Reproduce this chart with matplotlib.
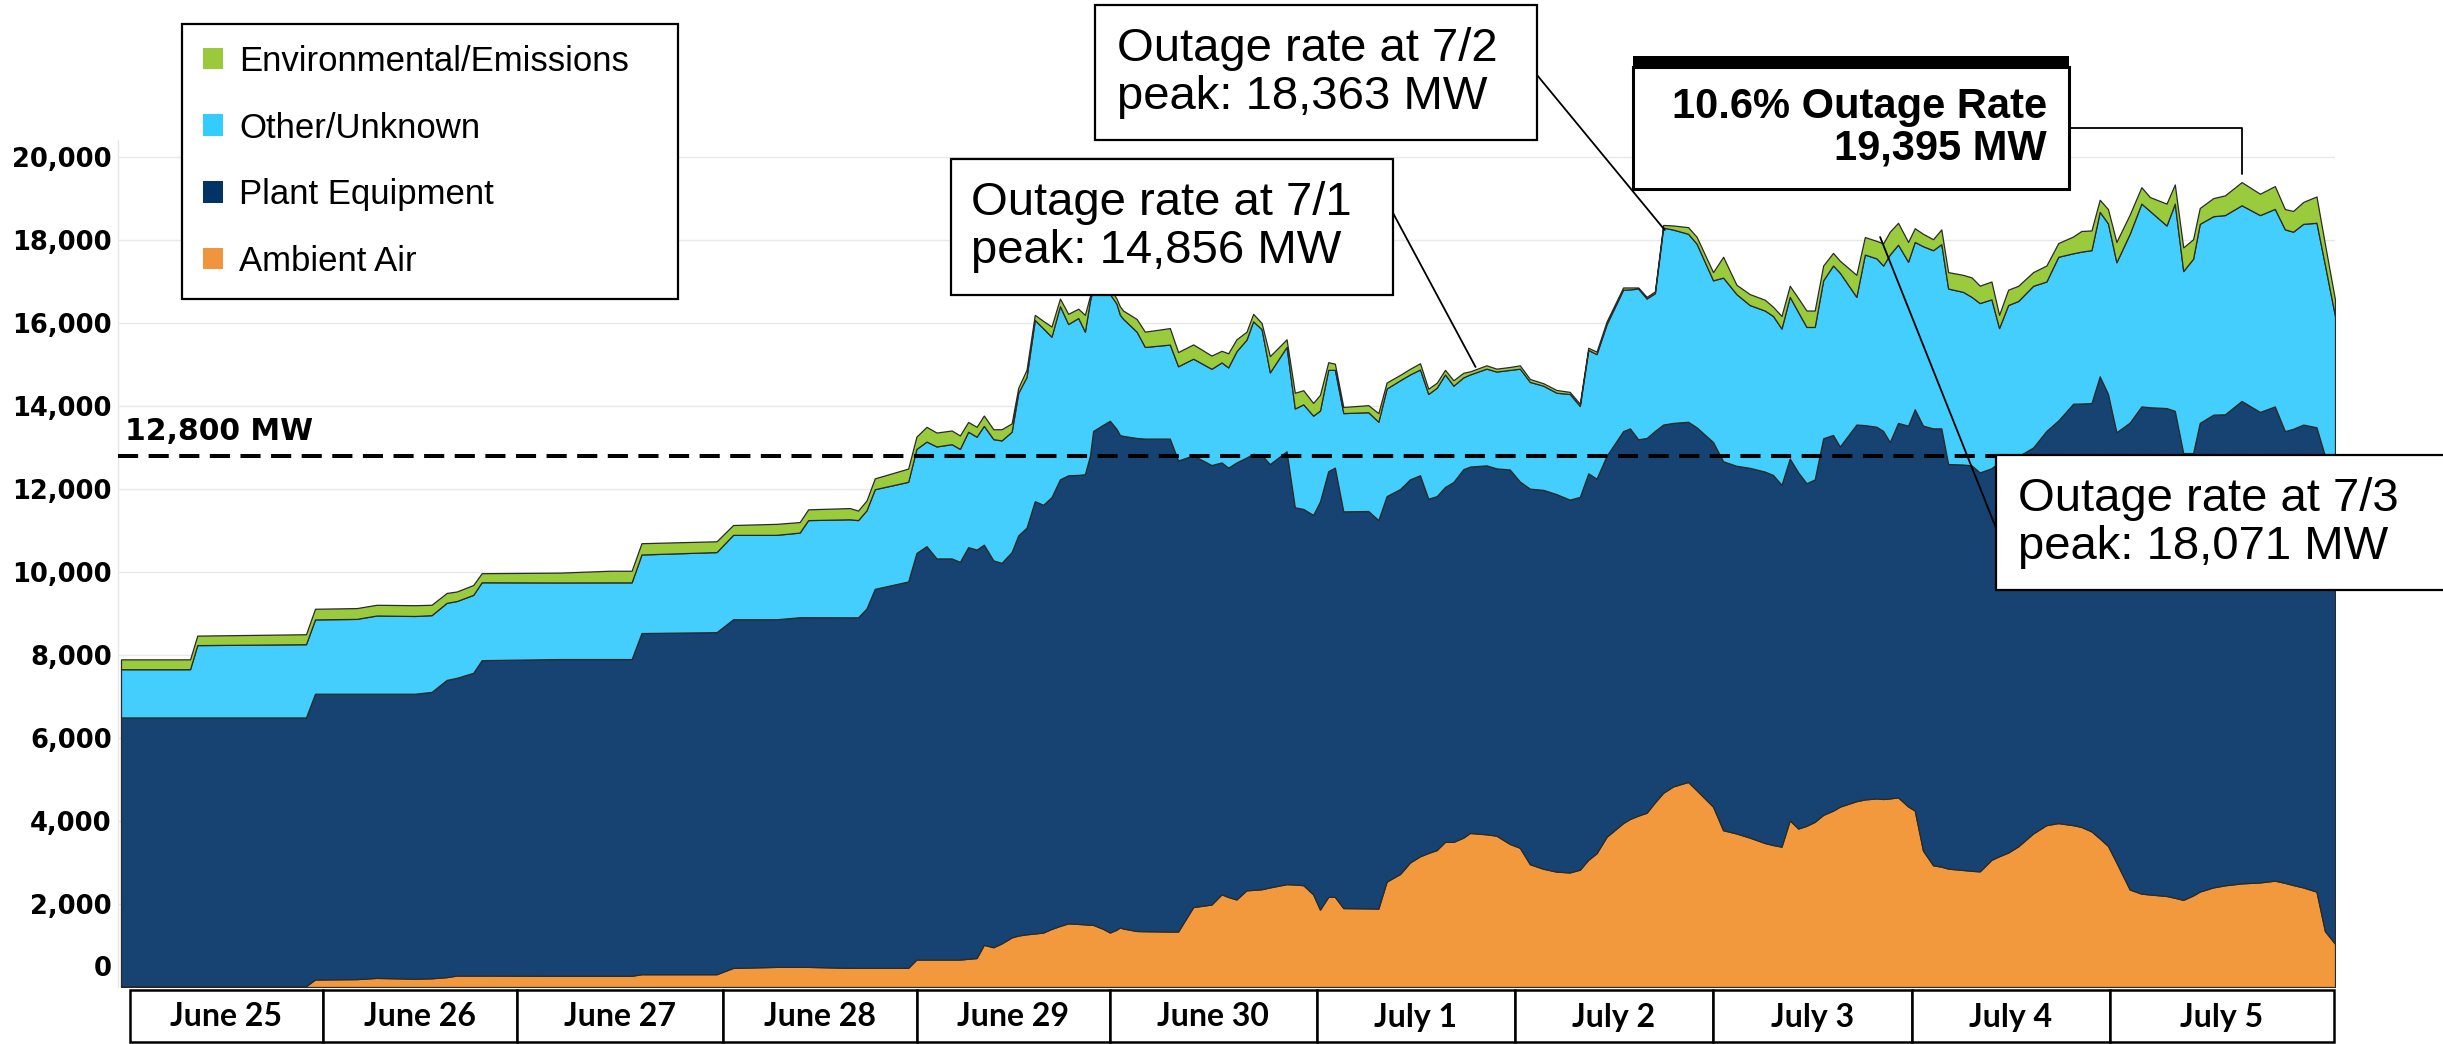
import matplotlib
matplotlib.use("Agg")
import numpy as np
import matplotlib.pyplot as plt
import matplotlib.transforms as mtransforms
from matplotlib.patches import Rectangle, Patch, ConnectionPatch
from matplotlib import font_manager

# ---------------- data ----------------
# x position in days since June 25 00:00
day_pos = [
    0.000, 0.343, 0.379, 0.919, 0.964, 1.171, 1.270, 1.460, 1.543, 1.618,
    1.668, 1.750, 1.792, 2.180, 2.429, 2.537, 2.586, 2.959, 3.041, 3.256,
    3.372, 3.414, 3.621, 3.662, 3.704, 3.745, 3.911, 3.952, 4.002, 4.052,
    4.127, 4.168, 4.209, 4.251, 4.287, 4.334, 4.375, 4.425, 4.458, 4.499,
    4.540, 4.582, 4.623, 4.665, 4.706, 4.756, 4.789, 4.814, 4.830, 4.880,
    4.913, 4.946, 4.963, 4.979, 5.046, 5.087, 5.211, 5.252, 5.327, 5.418,
    5.468, 5.501, 5.542, 5.592, 5.625, 5.667, 5.708, 5.791, 5.832, 5.874,
    5.923, 5.957, 5.998, 6.031, 6.073, 6.197, 6.247, 6.288, 6.355, 6.404,
    6.454, 6.495, 6.537, 6.578, 6.620, 6.669, 6.702, 6.784, 6.834, 6.900,
    6.950, 7.000, 7.066, 7.132, 7.198, 7.248, 7.290, 7.331, 7.381, 7.463,
    7.497, 7.538, 7.580, 7.621, 7.662, 7.712, 7.786, 7.828, 7.910, 7.960,
    8.026, 8.092, 8.167, 8.208, 8.250, 8.291, 8.333, 8.374, 8.415, 8.457,
    8.506, 8.540, 8.622, 8.664, 8.722, 8.755, 8.788, 8.829, 8.879, 8.912,
    8.953, 9.003, 9.044, 9.078, 9.152, 9.194, 9.235, 9.293, 9.331, 9.376,
    9.426, 9.500, 9.566, 9.625, 9.699, 9.740, 9.790, 9.831, 9.872, 9.914,
    9.980, 10.038, 10.080, 10.163, 10.204, 10.246, 10.295, 10.328, 10.395, 10.453,
    10.536, 10.627, 10.701, 10.751, 10.792, 10.842, 10.908, 10.950, 11.000,
]

ambient_air = [
    20, 20, 20, 20, 181, 190, 219, 200, 210, 238,
    276, 276, 276, 270, 270, 270, 308, 308, 460, 485,
    485, 485, 461, 461, 461, 461, 461, 662, 662, 662,
    662, 662, 680, 698, 1017, 958, 1050, 1195, 1240, 1270,
    1290, 1313, 1400, 1472, 1534, 1520, 1510, 1500, 1497, 1400,
    1313, 1380, 1436, 1410, 1350, 1345, 1337, 1337, 1926, 1988,
    2233, 2170, 2110, 2331, 2340, 2356, 2400, 2479, 2470, 2454,
    2233, 1865, 2172, 2172, 1902, 1895, 1890, 2540, 2724, 3000,
    3150, 3230, 3300, 3497, 3497, 3600, 3712, 3680, 3646, 3448,
    3355, 2959, 2850, 2780, 2761, 2827, 3065, 3223, 3620, 3950,
    4050, 4130, 4200, 4450, 4680, 4835, 4941, 4742, 4346, 3778,
    3700, 3600, 3470, 3421, 3382, 4016, 3818, 3884, 3980, 4148,
    4250, 4346, 4478, 4520, 4544, 4530, 4544, 4571, 4350, 4254,
    3289, 2933, 2900, 2853, 2820, 2800, 2787, 3065, 3150, 3240,
    3390, 3700, 3900, 3950, 3900, 3857, 3750, 3580, 3400, 3000,
    2350, 2250, 2230, 2193, 2150, 2100, 2206, 2300, 2400, 2450,
    2497, 2520, 2563, 2510, 2457, 2400, 2299, 1347, 1044,
]

plant_equipment = [
    6475, 6475, 6475, 6475, 6886, 6877, 6848, 6867, 6900, 7162,
    7174, 7295, 7600, 7632, 7632, 7632, 8221, 8242, 8401, 8376,
    8425, 8425, 8447, 8447, 8660, 9133, 9311, 9796, 9961, 9665,
    9665, 9583, 9920, 9842, 9642, 9322, 9170, 9286, 9644, 9798,
    10416, 10307, 10404, 10761, 10796, 10820, 10846, 11300, 11902, 12150,
    12331, 12070, 11865, 11870, 11880, 11870, 11878, 11350, 10884, 10589,
    10407, 10345, 10530, 10429, 10507, 10464, 10201, 10429, 9089, 9066,
    9142, 9835, 10258, 10343, 9559, 9575, 9362, 9288, 9276, 9233,
    9181, 8537, 8528, 8552, 8673, 8878, 8828, 8890, 8851, 9022,
    8825, 9049, 9130, 9096, 8983, 8983, 9313, 9027, 9180, 9445,
    9411, 9067, 9030, 8950, 8873, 8758, 8679, 8745, 8785, 8890,
    8860, 8910, 8950, 8917, 8718, 8718, 8582, 8256, 8250, 9075,
    9052, 8679, 9075, 9020, 8956, 8870, 8587, 9022, 9177, 9669,
    10238, 10528, 10561, 9749, 9770, 9770, 9613, 9435, 9500, 9494,
    9400, 9300, 9500, 9700, 10155, 10203, 10320, 11136, 10893, 10368,
    11250, 11740, 11740, 11757, 11734, 10766, 10660, 11293, 11391, 11350,
    11625, 11337, 11427, 10885, 10993, 11153, 11188, 11453, 11426,
]

other_unknown = [
    1162, 1162, 1743, 1765, 1790, 1803, 1885, 1873, 1850, 1857,
    1850, 1877, 1876, 1846, 1848, 1848, 1893, 1930, 2034, 2034,
    2040, 2340, 2362, 2342, 2366, 2401, 2401, 2508, 2520, 2698,
    2753, 2721, 2780, 2720, 2863, 2922, 2950, 2899, 3436, 3632,
    4367, 4250, 3865, 4172, 3645, 3780, 3435, 3730, 3451, 3250,
    3056, 3016, 2899, 2820, 2561, 2208, 2265, 2270, 2330, 2319,
    2410, 2415, 2680, 2840, 3193, 3030, 2209, 2515, 2380, 2520,
    2392, 2190, 2441, 2356, 2368, 2380, 2368, 2592, 2620, 2527,
    2549, 2523, 2612, 2711, 2320, 2212, 2220, 2330, 2333, 2400,
    2720, 2572, 2510, 2444, 2546, 2190, 2972, 3000, 3170, 3408,
    3349, 3633, 3360, 3320, 4747, 4657, 4530, 4426, 3897, 4426,
    4137, 3923, 3880, 3831, 3765, 3897, 3860, 3765, 3675, 3805,
    4083, 4185, 3078, 4109, 4057, 3985, 4519, 4294, 3950, 4030,
    4323, 4293, 4439, 4228, 4160, 4061, 4080, 4070, 3228, 3699,
    3740, 3896, 3600, 3946, 3625, 3660, 3685, 3963, 4107, 4096,
    4550, 4887, 4730, 4399, 4993, 4386, 4684, 4796, 4782, 4800,
    4715, 4743, 4760, 4861, 4750, 4836, 4928, 4600, 3699,
]

env_emissions = [
    238, 238, 229, 240, 257, 260, 258, 260, 250, 238,
    230, 238, 219, 237, 280, 280, 272, 260, 237, 265,
    253, 260, 270, 230, 236, 261, 319, 296, 355, 335,
    330, 324, 236, 238, 248, 238, 270, 201, 122, 171,
    123, 180, 245, 184, 246, 224, 405, 120, 100, 100,
    150, 123, 200, 200, 307, 368, 397, 343, 344, 319,
    280, 340, 287, 190, 181, 150, 392, 184, 380, 340,
    307, 380, 184, 149, 147, 170, 209, 145, 130, 136,
    150, 127, 120, 111, 130, 110, 74, 80, 70, 70,
    80, 70, 60, 66, 50, 55, 53, 60, 67, 53,
    46, 26, 41, 40, 63, 100, 159, 167, 198, 502,
    225, 264, 260, 221, 304, 265, 340, 396, 396, 357,
    304, 290, 529, 422, 422, 535, 550, 528, 476, 330,
    300, 265, 356, 396, 410, 469, 420, 430, 318, 370,
    366, 330, 385, 330, 405, 497, 475, 291, 345, 489,
    463, 396, 335, 528, 462, 569, 469, 382, 436, 475,
    558, 515, 549, 489, 500, 528, 634, 500, 396,
]

series_labels = ["Ambient Air", "Plant Equipment", "Other/Unknown", "Environmental/Emissions"]
day_labels = ["June 25", "June 26", "June 27", "June 28", "June 29", "June 30",
              "July 1", "July 2", "July 3", "July 4", "July 5"]
day_edges = [0.045, 1.003, 1.967, 2.991, 3.954, 4.913, 5.941, 6.925, 7.909, 8.897, 9.881, 10.994]
y_ticks = [0, 2000, 4000, 6000, 8000, 10000, 12000, 14000, 16000, 18000, 20000]
threshold = 12800
threshold_label = "12,800 MW"

annot_71 = "Outage rate at 7/1\npeak: 14,856 MW"
annot_72 = "Outage rate at 7/2\npeak: 18,363 MW"
annot_73 = "Outage rate at 7/3\npeak: 18,071 MW"
annot_peak = "10.6% Outage Rate\n19,395 MW"
point_71 = (6.73, 14940)
point_72 = (7.67, 18240)
point_73 = (8.74, 18071)
point_peak = (10.54, 19590)

# ---------------- style ----------------
c_orange = "#F2983D"
c_navy = "#174372"
c_blue = "#44CEFD"
c_green = "#99CB3D"
leg_colors = {"Environmental/Emissions": "#9ACA3C", "Other/Unknown": "#33CCFF",
              "Plant Equipment": "#003366", "Ambient Air": "#F0953E"}

names = {f.name for f in font_manager.fontManager.ttflist}
if "Liberation Sans Narrow" in names:
    leg_family, leg_size = "Liberation Sans Narrow", 30
else:
    leg_family, leg_size = "Liberation Sans", 25

W, H = 2443, 1044
fig = plt.figure(figsize=(W / 100, H / 100), dpi=100)
fig.patch.set_facecolor("white")


def fx(px):
    return px / W


def fy(py):
    return 1 - py / H


ax = fig.add_axes([fx(118), fy(987), fx(2335) - fx(118), fy(140.4) - fy(987)])
ax.set_xlim(-0.0149, 11.0)
ax.set_ylim(0, 20400)

ax.stackplot(day_pos, ambient_air, plant_equipment, other_unknown, env_emissions,
             colors=[c_orange, c_navy, c_blue, c_green],
             edgecolor="#2a2a2a", linewidth=0.9, zorder=2)

ax.set_yticks(y_ticks)
ax.set_yticklabels([f"{v:,}" for v in y_ticks], fontsize=18.5, fontweight="bold",
                   family="DejaVu Sans")
ax.tick_params(axis="y", length=0, pad=4.5)
ax.set_xticks([])
ax.yaxis.grid(True, color="#e8e8e8", linewidth=1.0)
ax.set_axisbelow(True)
for s in ["top", "right", "bottom"]:
    ax.spines[s].set_visible(False)
ax.spines["left"].set_color("#e6e6e6")
ax.spines["left"].set_linewidth(1.0)

# raise the "0" label like in the original
zero_lbl = ax.get_yticklabels()[0]
zero_lbl.set_transform(zero_lbl.get_transform() +
                       mtransforms.ScaledTranslation(0, 0.21, fig.dpi_scale_trans))

# threshold line
ax.axhline(threshold, color="black", linewidth=2.9, dashes=(5, 2.6), zorder=4)
ax.text(0.02, 13180, threshold_label, fontsize=21.5, fontweight="bold",
        family="DejaVu Sans", ha="left", va="baseline", zorder=4)

# date table under the plot
trans_tab = mtransforms.blended_transform_factory(ax.transData, fig.transFigure)
for i, lab in enumerate(day_labels):
    x0, x1 = day_edges[i], day_edges[i + 1]
    ax.add_patch(Rectangle((x0, fy(1042)), x1 - x0, fy(990) - fy(1042),
                           transform=trans_tab, facecolor="white", edgecolor="black",
                           linewidth=1.8, clip_on=False, zorder=3))
    ax.text((x0 + x1) / 2, fy(1017), lab, transform=trans_tab, ha="center", va="center",
            fontsize=23, fontweight="bold", family=["Lato", "DejaVu Sans"], zorder=4)

# legend
order = ["Environmental/Emissions", "Other/Unknown", "Plant Equipment", "Ambient Air"]
handles = [Patch(facecolor=leg_colors[k], edgecolor="none") for k in order]
leg = fig.legend(handles, order, loc="upper left",
                 bbox_to_anchor=(fx(182), fy(299), fx(678) - fx(182), fy(24) - fy(299)),
                 mode="expand", borderaxespad=0, frameon=True, fancybox=False,
                 edgecolor="black", framealpha=1,
                 prop={"family": leg_family, "size": leg_size},
                 handlelength=0.58, handleheight=0.58, handletextpad=0.46,
                 labelspacing=0.97, borderpad=0.6)
leg.get_frame().set_linewidth(1.6)
leg.set_zorder(8)


# annotation boxes
def add_box(x0, y0, x1, y1, lw=1.6):
    fig.add_artist(Rectangle((fx(x0), fy(y1)), fx(x1) - fx(x0), fy(y0) - fy(y1),
                             transform=fig.transFigure, facecolor="white",
                             edgecolor="black", linewidth=lw, zorder=6))


def add_leader(px, py, point, style="arc3"):
    cp = ConnectionPatch(xyA=(fx(px), fy(py)), coordsA="figure fraction",
                         xyB=point, coordsB="data", axesB=ax,
                         color="black", linewidth=1.3, zorder=5,
                         connectionstyle=style)
    fig.add_artist(cp)


ann_font = {"family": ["Liberation Sans", "DejaVu Sans"], "size": 34}

# 7/1
add_leader(1393, 213, point_71)
add_box(951, 159, 1393, 295)
fig.text(fx(971), fy(227), annot_71, ha="left", va="center", linespacing=1.12,
         zorder=7, **ann_font)

# 7/2
add_leader(1537, 75, point_72)
add_box(1095, 5, 1537, 140)
fig.text(fx(1117), fy(73), annot_72, ha="left", va="center", linespacing=1.12,
         zorder=7, **ann_font)

# 7/3
add_leader(1996, 528, point_73)
add_box(1996, 455, 2480, 590)
fig.text(fx(2018), fy(523), annot_73, ha="left", va="center", linespacing=1.12,
         zorder=7, **ann_font)

# 10.6 % peak
add_leader(2069, 128, point_peak, style="angle,angleA=0,angleB=90,rad=0")
add_box(1633, 67, 2069, 189, lw=2.2)
fig.add_artist(Rectangle((fx(1633), fy(67)), fx(2069) - fx(1633), fy(56) - fy(67),
                         transform=fig.transFigure, facecolor="black",
                         edgecolor="black", linewidth=0, zorder=7))
fig.text(fx(2047), fy(128), annot_peak, ha="right", va="center", linespacing=1.05,
         zorder=7, family=["Liberation Sans", "DejaVu Sans"], size=30, fontweight="bold")

fig.savefig("out.png", dpi=100, facecolor="white")
